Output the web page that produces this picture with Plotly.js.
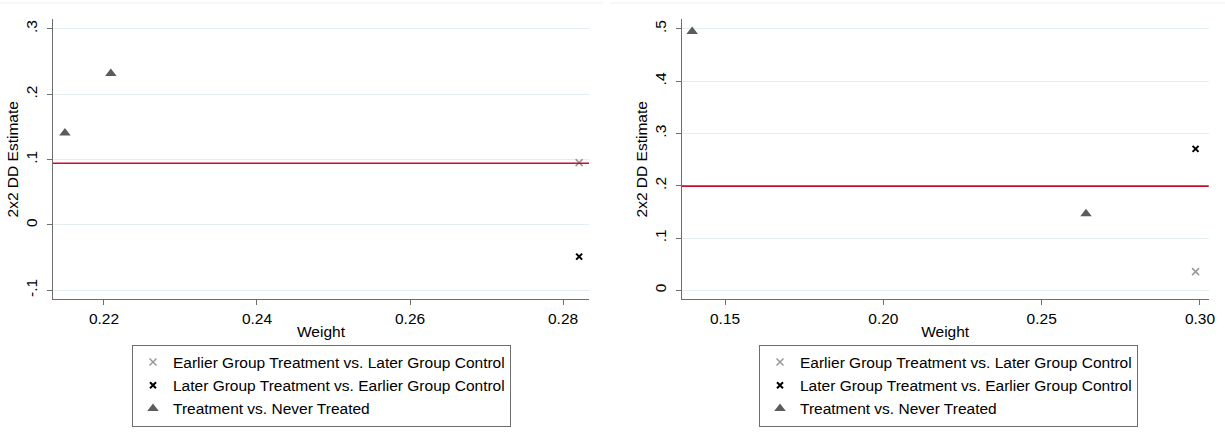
<!DOCTYPE html>
<html>
<head>
<meta charset="utf-8">
<script src="https://cdn.plot.ly/plotly-3.0.1.min.js"></script>
<style>html,body{margin:0;padding:0;background:#fff;}#chart{width:1225px;height:435px;}</style>
</head>
<body>
<div id="chart"></div>
<script>
// ---- Data ----
const seriesNames = [
  "Earlier Group Treatment vs. Later Group Control",
  "Later Group Treatment vs. Earlier Group Control",
  "Treatment vs. Never Treated"
];

// Left panel
const leftEarlierW = [0.2821];
const leftEarlierE = [0.0954];
const leftLaterW = [0.2821];
const leftLaterE = [-0.0485];
const leftNeverW = [0.2149, 0.2209];
const leftNeverE = [0.1407, 0.2320];
const leftAvg = 0.0944;
const leftXTicks = [0.22, 0.24, 0.26, 0.28];
const leftXTickText = ["0.22", "0.24", "0.26", "0.28"];
const leftYTicks = [-0.1, 0, 0.1, 0.2, 0.3];
const leftYTickText = ["-.1", "0", ".1", ".2", ".3"];

// Right panel
const rightEarlierW = [0.2986];
const rightEarlierE = [0.0358];
const rightLaterW = [0.2986];
const rightLaterE = [0.2706];
const rightNeverW = [0.1396, 0.2640];
const rightNeverE = [0.4950, 0.1467];
const rightAvg = 0.1993;
const rightXTicks = [0.15, 0.20, 0.25, 0.30];
const rightXTickText = ["0.15", "0.20", "0.25", "0.30"];
const rightYTicks = [0, 0.1, 0.2, 0.3, 0.4, 0.5];
const rightYTickText = ["0", ".1", ".2", ".3", ".4", ".5"];

// ---- Styles ----
const FONT = "Liberation Sans, Arial, sans-serif";
const earlierMarker = {symbol: "x-thin", size: 7, color: "#999999", line: {color: "#999999", width: 1.5}};
const laterMarker = {symbol: "x-thin", size: 6, color: "#000000", line: {color: "#000000", width: 2}};
const neverMarker = {symbol: "triangle-up", size: 10, color: "#5c5c5c", line: {width: 0}};

function panelTraces(xa, ya, leg, eW, eE, lW, lE, nW, nE) {
  return [
    {x: eW, y: eE, xaxis: xa, yaxis: ya, type: "scatter", mode: "markers", name: seriesNames[0], legend: leg, marker: earlierMarker, hoverinfo: "skip"},
    {x: lW, y: lE, xaxis: xa, yaxis: ya, type: "scatter", mode: "markers", name: seriesNames[1], legend: leg, marker: laterMarker, hoverinfo: "skip"},
    {x: nW, y: nE, xaxis: xa, yaxis: ya, type: "scatter", mode: "markers", name: seriesNames[2], legend: leg, marker: neverMarker, hoverinfo: "skip"}
  ];
}

const data = [].concat(
  panelTraces("x", "y", "legend", leftEarlierW, leftEarlierE, leftLaterW, leftLaterE, leftNeverW, leftNeverE),
  panelTraces("x2", "y2", "legend2", rightEarlierW, rightEarlierE, rightLaterW, rightLaterE, rightNeverW, rightNeverE)
);

const W = 1225, H = 435;
const yDom = [1 - 299.3 / H, 1 - 19.3 / H];

function xAxis(dom, range, tv, tt, anchor) {
  return {
    domain: dom, range: range, anchor: anchor,
    tickmode: "array", tickvals: tv, ticktext: tt,
    ticks: "outside", ticklen: 5, tickwidth: 1, tickcolor: "#6e6e6e",
    showline: true, linecolor: "#6e6e6e", linewidth: 1, mirror: false,
    showgrid: false, zeroline: false,
    tickfont: {family: FONT, size: 15.5, color: "#000"},
    title: {text: "Weight", font: {family: FONT, size: 15.5, color: "#000"}, standoff: 0},
    automargin: false, fixedrange: true
  };
}
function yAxis(range, tv, tt, anchor) {
  return {
    domain: yDom, range: range, anchor: anchor,
    tickmode: "array", tickvals: tv, ticktext: tt, tickangle: -90,
    ticks: "outside", ticklen: 5, tickwidth: 1, tickcolor: "#6e6e6e",
    ticklabelstandoff: 4,
    showline: true, linecolor: "#6e6e6e", linewidth: 1, mirror: false,
    showgrid: true, gridcolor: "#e4edf0", gridwidth: 1, zeroline: false,
    tickfont: {family: FONT, size: 15.5, color: "#000"},
    title: {text: "2x2 DD Estimate", font: {family: FONT, size: 15.5, color: "#000"}, standoff: 0},
    automargin: false, fixedrange: true
  };
}

const legendStyle = (x) => ({
  x: x, y: 1 - 344.5 / H, xref: "paper", yref: "paper", xanchor: "left", yanchor: "top",
  bgcolor: "#ffffff", bordercolor: "#6e6e6e", borderwidth: 1,
  font: {family: FONT, size: 15.5, color: "#000"},
  tracegroupgap: 0, itemclick: false, itemdoubleclick: false
});

const layout = {
  width: W, height: H,
  margin: {l: 0, r: 0, t: 0, b: 0},
  paper_bgcolor: "#ffffff", plot_bgcolor: "#ffffff",
  font: {family: FONT, size: 15.5, color: "#000"},
  showlegend: true,
  xaxis: xAxis([53 / W, 589 / W], [0.21334, 0.28339], leftXTicks, leftXTickText, "y"),
  yaxis: yAxis([-0.1138, 0.3148], leftYTicks, leftYTickText, "x"),
  xaxis2: xAxis([681.7 / W, 1208.7 / W], [0.1363, 0.30275], rightXTicks, rightXTickText, "y2"),
  yaxis2: yAxis([-0.0172, 0.5185], rightYTicks, rightYTickText, "x2"),
  legend: legendStyle(132 / W),
  legend2: legendStyle(759 / W),
  shapes: [
    {type: "line", xref: "x domain", yref: "y", x0: 0, x1: 1, y0: leftAvg, y1: leftAvg, line: {color: "#c8102e", width: 1.6}, layer: "above"},
    {type: "line", xref: "x2 domain", yref: "y2", x0: 0, x1: 1, y0: rightAvg, y1: rightAvg, line: {color: "#c8102e", width: 1.6}, layer: "above"},
    {type: "line", xref: "paper", yref: "paper", x0: 0, x1: 603 / W, y0: 1 - 3 / H, y1: 1 - 3 / H, line: {color: "#f0f0f0", width: 1}},
    {type: "line", xref: "paper", yref: "paper", x0: 610 / W, x1: 1, y0: 1 - 3 / H, y1: 1 - 3 / H, line: {color: "#f0f0f0", width: 1}}
  ]
};

Plotly.newPlot("chart", data, layout, {displayModeBar: false, staticPlot: true});
</script>
</body>
</html>
